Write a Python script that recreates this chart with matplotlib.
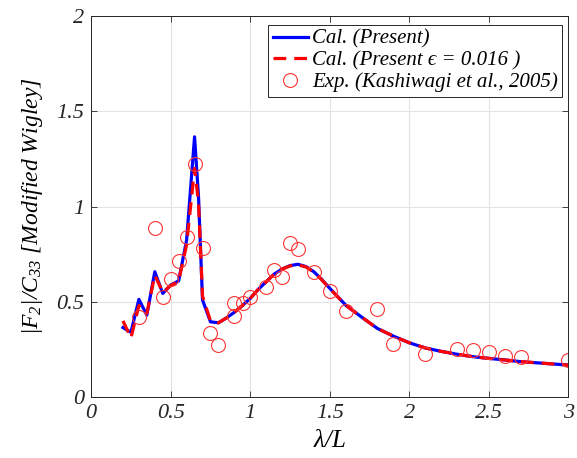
import numpy as np
import matplotlib.pyplot as plt

plt.rcParams['font.family'] = ['Liberation Serif', 'DejaVu Serif']
plt.rcParams['font.style'] = 'italic'
plt.rcParams['mathtext.fontset'] = 'custom'
plt.rcParams['mathtext.it'] = 'Liberation Serif:italic'
plt.rcParams['mathtext.rm'] = 'Liberation Serif:italic'

# present calculation
lam_cal = [0.20, 0.25, 0.30, 0.35, 0.40, 0.45, 0.50, 0.55, 0.60, 0.65, 0.675, 0.70,
           0.75, 0.80, 0.85, 0.90, 0.95, 1.00, 1.05, 1.10, 1.15, 1.20, 1.25, 1.30,
           1.35, 1.40, 1.45, 1.50, 1.55, 1.60, 1.70, 1.80, 1.90, 2.00, 2.10, 2.20,
           2.30, 2.40, 2.50, 2.60, 2.70, 2.80, 2.90, 3.00]
f_cal = [0.365, 0.34, 0.513, 0.43, 0.658, 0.544, 0.588, 0.61, 0.824, 1.366, 1.05, 0.51,
         0.395, 0.39, 0.415, 0.445, 0.48, 0.518, 0.565, 0.605, 0.645, 0.672, 0.69, 0.697,
         0.685, 0.658, 0.617, 0.571, 0.527, 0.483, 0.42, 0.36, 0.32, 0.285, 0.258, 0.24,
         0.225, 0.212, 0.203, 0.195, 0.186, 0.18, 0.174, 0.168]

# present calculation, epsilon = 0.016
lam_eps = [0.20, 0.25, 0.30, 0.35, 0.40, 0.45, 0.50, 0.55, 0.60, 0.65, 0.675, 0.70,
           0.75, 0.80, 0.85, 0.90, 0.95, 1.00, 1.05, 1.10, 1.15, 1.20, 1.25, 1.30,
           1.35, 1.40, 1.45, 1.50, 1.55, 1.60, 1.70, 1.80, 1.90, 2.00, 2.10, 2.20,
           2.30, 2.40, 2.50, 2.60, 2.70, 2.80, 2.90, 3.00]
f_eps = [0.40, 0.31, 0.48, 0.44, 0.64, 0.55, 0.585, 0.61, 0.80, 1.20, 1.02, 0.53,
         0.40, 0.39, 0.415, 0.445, 0.48, 0.518, 0.565, 0.605, 0.645, 0.672, 0.688, 0.694,
         0.683, 0.656, 0.615, 0.57, 0.526, 0.482, 0.42, 0.36, 0.32, 0.285, 0.258, 0.24,
         0.225, 0.212, 0.203, 0.195, 0.186, 0.18, 0.174, 0.168]

# Kashiwagi et al. (2005)
lam_exp = [0.30, 0.40, 0.45, 0.50, 0.55, 0.60, 0.65, 0.70, 0.75, 0.80, 0.895, 0.90,
           0.955, 1.00, 1.10, 1.15, 1.20, 1.25, 1.30, 1.40, 1.50, 1.60, 1.80, 1.90,
           2.10, 2.30, 2.40, 2.50, 2.60, 2.70, 3.00]
f_exp = [0.42, 0.886, 0.527, 0.618, 0.716, 0.842, 1.223, 0.785, 0.338, 0.273, 0.492, 0.428,
         0.493, 0.525, 0.58, 0.667, 0.632, 0.81, 0.777, 0.658, 0.556, 0.451, 0.464, 0.277,
         0.225, 0.25, 0.247, 0.238, 0.215, 0.212, 0.194]

fig = plt.figure(figsize=(5.77, 4.58), dpi=100)
ax = fig.add_axes([0.158, 0.133, 0.827, 0.832])

ax.plot(lam_cal, f_cal, '-', color='#0000ff', lw=2.3, label='Cal. (Present)')
ax.plot(lam_eps, f_eps, '--', color='#ff0000', lw=2.3, dashes=(4, 2.5),
        label='Cal. (Present \u03f5 = 0.016 )')
ax.plot(lam_exp, f_exp, 'o', mfc='none', mec='#ff3333', ms=10, mew=0.8,
        label='Exp. (Kashiwagi et al., 2005)')

ax.set_xlim(0, 3)
ax.set_ylim(0, 2)
ax.set_xticks(np.arange(0, 3.01, 0.5))
ax.set_yticks(np.arange(0, 2.01, 0.5))
ax.set_xticklabels(['0', '0.5', '1', '1.5', '2', '2.5', '3'])
ax.set_yticklabels(['0', '0.5', '1', '1.5', '2'])
ax.tick_params(direction='in', top=True, right=True, labelsize=16, length=4,
               width=0.6, colors='#262626', pad=5)
ax.grid(True, color='#e3e3e3', lw=0.8)
ax.set_axisbelow(True)
for s in ax.spines.values():
    s.set_color('#262626')
    s.set_linewidth(0.7)

ax.set_xlabel(r'$\lambda/L$', fontsize=18, labelpad=5)
ax.set_ylabel(r'$|F_2|/C_{33}$ [Modified Wigley]', fontsize=17, labelpad=8)

leg = ax.legend(loc='upper right', bbox_to_anchor=(0.987, 0.976), fontsize=15,
                fancybox=False, framealpha=1, edgecolor='#262626',
                handlelength=1.7, handletextpad=0.2, borderpad=0.2,
                labelspacing=0.1, borderaxespad=0)
leg.get_frame().set_linewidth(0.7)

fig.savefig('out.png', dpi=100)
